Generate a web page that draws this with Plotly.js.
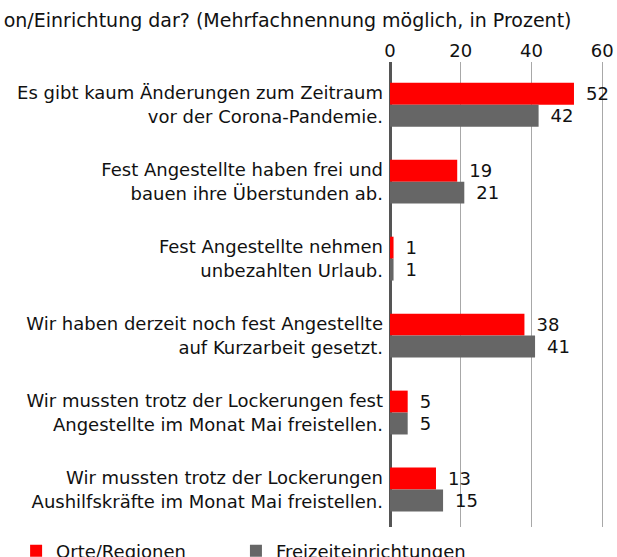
<!DOCTYPE html>
<html>
<head>
<meta charset="utf-8">
<script src="https://cdn.plot.ly/plotly-3.0.1.min.js"></script>
<style>html,body{margin:0;padding:0;background:#fff;}</style>
</head>
<body>
<div id="chart" style="width:617px;height:557px;"></div>
<script>
const categories = [
  "Es gibt kaum Änderungen zum Zeitraum<br>vor der Corona-Pandemie.",
  "Fest Angestellte haben frei und<br>bauen ihre Überstunden ab.",
  "Fest Angestellte nehmen<br>unbezahlten Urlaub.",
  "Wir haben derzeit noch fest Angestellte<br>auf Kurzarbeit gesetzt.",
  "Wir mussten trotz der Lockerungen fest<br>Angestellte im Monat Mai freistellen.",
  "Wir mussten trotz der Lockerungen<br>Aushilfskräfte im Monat Mai freistellen."
];
const orteRegionen = [52, 19, 1, 38, 5, 13];
const freizeiteinrichtungen = [42, 21, 1, 41, 5, 15];
const seriesNames = ["Orte/Regionen", "Freizeiteinrichtungen"];
const xTicks = [0, 20, 40, 60];
const titleText = "on/Einrichtung dar? (Mehrfachnennung möglich, in Prozent)";

const FONT = "DejaVu Sans, sans-serif";
const SZ = 18;
function barTrace(name, vals, color, legendId) {
  return {
    type: "bar", orientation: "h", name: name, legend: legendId,
    y: categories, x: vals,
    text: vals.map(String), texttemplate: "\u2002%{text}",
    textposition: "outside", cliponaxis: false, constraintext: "none",
    textfont: {size: SZ, color: "#111", family: FONT},
    marker: {color: color, line: {width: 0}}
  };
}
const traces = [
  barTrace(seriesNames[0], orteRegionen, "#ff0000", "legend"),
  barTrace(seriesNames[1], freizeiteinrichtungen, "#666666", "legend2")
];

const legendBase = {
  orientation: "h", y: -0.012, yanchor: "top", xanchor: "left",
  font: {size: SZ, family: FONT, color: "#111"}, itemwidth: 30,
  bgcolor: "rgba(0,0,0,0)", borderwidth: 0
};

const layout = {
  width: 617, height: 557,
  margin: {l: 388, r: 0, t: 62, b: 30, autoexpand: false},
  paper_bgcolor: "#fff", plot_bgcolor: "#fff",
  font: {family: FONT, size: SZ, color: "#111"},
  title: {text: titleText, x: 0.006, xanchor: "left", xref: "container",
          y: 0.976, yanchor: "top", yref: "container",
          font: {size: 19, family: FONT, color: "#111"}},
  barmode: "group", bargap: 0.43, bargroupgap: 0,
  xaxis: {
    side: "top", range: [-0.565, 64.16], tickvals: xTicks,
    showgrid: true, gridcolor: "#a8a8a8", gridwidth: 1,
    zeroline: true, zerolinecolor: "#555", zerolinewidth: 3,
    showline: false, ticks: "",
    tickfont: {size: SZ, family: FONT, color: "#111"}
  },
  yaxis: {
    autorange: false, range: [5.487, -0.555], type: "category",
    showgrid: false, zeroline: false, showline: false,
    ticks: "", automargin: false, ticklabelstandoff: 4,
    tickfont: {size: SZ, family: FONT, color: "#111"}
  },
  showlegend: true,
  legend: Object.assign({}, legendBase, {x: -1.624}),
  legend2: Object.assign({}, legendBase, {x: -0.664})
};
Plotly.newPlot("chart", traces, layout, {displayModeBar: false, staticPlot: true});
</script>
</body>
</html>
